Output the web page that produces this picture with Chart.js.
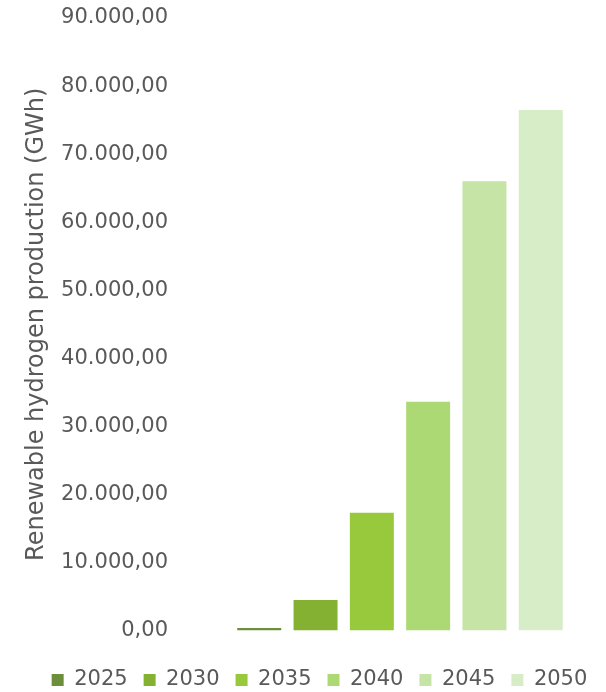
<!DOCTYPE html>
<html>
<head>
<meta charset="utf-8">
<script src="https://cdn.jsdelivr.net/npm/chart.js@4/dist/chart.umd.min.js"></script>
<style>
    html, body { margin: 0; padding: 0; background: #fff; }
</style>
</head>
<body>
<canvas id="h2Chart" width="606" height="692"></canvas>
<script>
const years = ["2025", "2030", "2035", "2040", "2045", "2050"];
const production = [350, 4480, 17300, 33600, 66000, 76500];
const barColors = ["#6d8f3c", "#84b131", "#98c93d", "#add975", "#c5e4a6", "#d7edc7"];
const yMax = 90000;
const yStep = 10000;

const textGrey = "#595959";

Chart.defaults.font.family = '"DejaVu Sans", sans-serif';
Chart.defaults.color = textGrey;

// 10000 -> "10.000,00"
const fmtNum = (v) =>
    Math.round(v).toString().replace(/\B(?=(\d{3})+(?!\d))/g, ".") + ",00";

const h2Chart = new Chart(document.getElementById("h2Chart"), {
    type: "bar",
    data: {
        labels: [""],
        datasets: years.map((y, i) => ({
            label: y,
            data: [production[i]],
            backgroundColor: barColors[i],
            borderWidth: 0,
            categoryPercentage: 0.82,
            barPercentage: 0.781
        }))
    },
    options: {
        responsive: false,
        animation: false,
        layout: { padding: { left: 33, top: 18, right: 0, bottom: -8.5 } },
        plugins: {
            tooltip: { enabled: false },
            legend: {
                position: "bottom",
                labels: {
                    boxWidth: 12,
                    boxHeight: 12,
                    padding: 16,
                    color: textGrey,
                    font: { size: 21 }
                }
            }
        },
        scales: {
            x: {
                grid: { display: false },
                border: { display: false },
                ticks: { display: false },
                afterFit: (s) => { s.height = 23; }
            },
            y: {
                min: 0,
                max: yMax,
                grid: { display: false, drawTicks: false },
                border: { display: false },
                ticks: {
                    stepSize: yStep,
                    padding: 26,
                    color: textGrey,
                    font: { size: 21 },
                    callback: (v) => fmtNum(v)
                },
                title: {
                    display: true,
                    text: "Renewable hydrogen production (GWh)",
                    color: textGrey,
                    font: { size: 24 },
                    padding: { top: -11, bottom: 0 }
                },
                afterFit: (s) => {
                    s.width = 161;
                    // tick padding should not push the plot area down
                    s.paddingTop = 0;
                    s.paddingBottom = 0;
                }
            }
        }
    }
});
</script>
</body>
</html>
